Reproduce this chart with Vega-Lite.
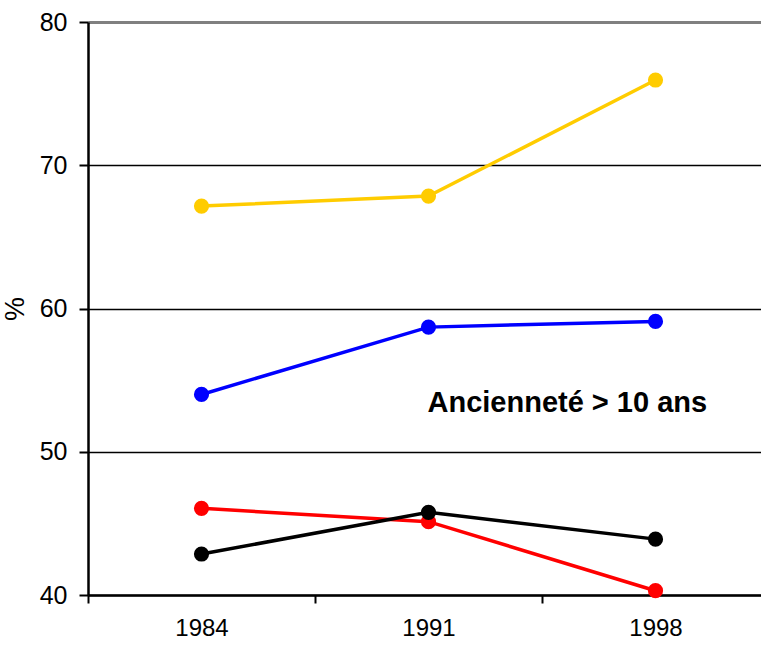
{
  "$schema": "https://vega.github.io/schema/vega-lite/v6.json",
  "autosize": "none",
  "padding": {"left": 88, "top": 22, "right": 0, "bottom": 53},
  "width": 681,
  "height": 573,
  "background": "white",
  "config": {
    "view": {"stroke": null},
    "font": "Liberation Sans"
  },
  "datasets": {
    "series": [
      {"annee": "1984", "serie": "A", "pct": 67.15},
      {"annee": "1991", "serie": "A", "pct": 67.85},
      {"annee": "1998", "serie": "A", "pct": 75.95},
      {"annee": "1984", "serie": "B", "pct": 54.0},
      {"annee": "1991", "serie": "B", "pct": 58.7},
      {"annee": "1998", "serie": "B", "pct": 59.1},
      {"annee": "1984", "serie": "C", "pct": 46.05},
      {"annee": "1991", "serie": "C", "pct": 45.12},
      {"annee": "1998", "serie": "C", "pct": 40.3},
      {"annee": "1984", "serie": "D", "pct": 42.86},
      {"annee": "1991", "serie": "D", "pct": 45.77},
      {"annee": "1998", "serie": "D", "pct": 43.9}
    ]
  },
  "layer": [
    {
      "data": {"name": "series"},
      "mark": {"type": "line", "strokeWidth": 3.5, "point": {"filled": true, "size": 230, "opacity": 1}},
      "encoding": {
        "x": {
          "field": "annee", "type": "ordinal",
          "scale": {"type": "band", "paddingInner": 0, "paddingOuter": 0},
          "bandPosition": 0.5,
          "axis": {
            "title": null, "labelAngle": 0, "tickBand": "extent",
            "domainColor": "black", "domainWidth": 2.5,
            "tickColor": "black", "tickWidth": 2, "tickSize": 8,
            "labelFontSize": 24, "labelColor": "black", "labelPadding": 13,
            "labelFont": "Liberation Sans", "grid": false
          }
        },
        "y": {
          "field": "pct", "type": "quantitative",
          "scale": {"domain": [40, 80], "nice": false, "zero": false},
          "axis": {
            "title": "%", "titleFontSize": 27, "titleFontWeight": "normal", "titleColor": "black",
            "titleFont": "Liberation Sans", "titlePadding": 10,
            "values": [40, 50, 60, 70, 80],
            "labelFontSize": 25, "labelColor": "black", "labelPadding": 12,
            "labelFont": "Liberation Sans",
            "domainColor": "black", "domainWidth": 2.5,
            "tickColor": "black", "tickWidth": 2, "tickSize": 9,
            "grid": true,
            "gridColor": {"condition": {"test": "datum.value == 80", "value": "#808080"}, "value": "black"},
            "gridWidth": {"condition": {"test": "datum.value == 80", "value": 3}, "value": 1.7},
            "gridOpacity": 1
          }
        },
        "color": {
          "field": "serie", "type": "nominal",
          "scale": {"domain": ["A", "B", "C", "D"], "range": ["#FFCC00", "#0000FF", "#FF0000", "#000000"]},
          "legend": null
        }
      }
    },
    {
      "data": {"values": [{"label": "Ancienneté > 10 ans", "annee": "1991", "pct": 53.4}]},
      "mark": {"type": "text", "align": "left", "baseline": "middle", "fontWeight": "bold", "fontSize": 29, "font": "Liberation Sans", "color": "black", "dx": -1},
      "encoding": {
        "x": {"field": "annee", "type": "ordinal", "bandPosition": 0.5},
        "y": {"field": "pct", "type": "quantitative"},
        "text": {"field": "label"}
      }
    }
  ]
}
